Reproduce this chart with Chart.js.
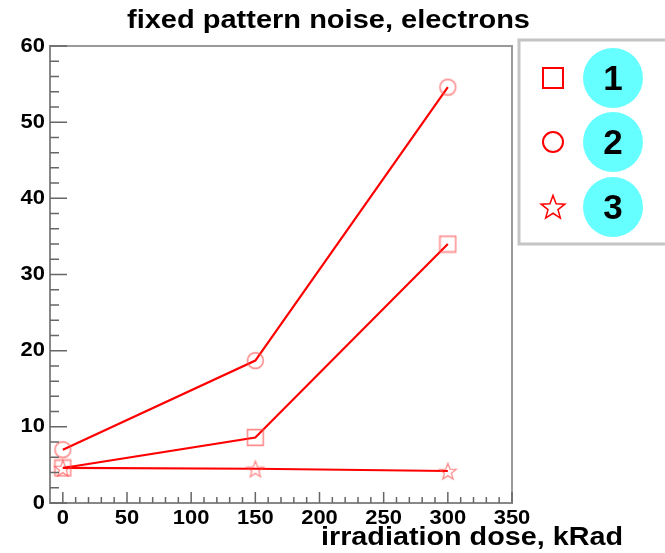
<!DOCTYPE html>
<html>
<head>
<meta charset="utf-8">
<script src="https://cdn.jsdelivr.net/npm/chart.js@4"></script>
<style>
  body { margin: 0; background: #fff; }
  #wrap { width: 665px; height: 553px; }
</style>
</head>
<body>
<div id="wrap"><canvas id="fpnChart"></canvas></div>
<script>
// dose points, kRad
const doses = [0, 150, 300];
// fixed pattern noise, electrons
const series1 = [4.6, 8.6, 34];
const series2 = [7.0, 18.7, 54.6];
const series3 = [4.6, 4.5, 4.2];
const seriesNames = ["1", "2", "3"];
const xTicks = [0, 50, 100, 150, 200, 250, 300, 350];
const yTicks = [0, 10, 20, 30, 40, 50, 60];

const red = "rgb(255,0,0)";
const fadedRed = "rgba(255,80,80,0.65)";
const fontFam = "'Liberation Sans', Arial, sans-serif";

// marker images, drawn once on small canvases
const markerCanvas = (kind, color, size, lw) => {
  const c = document.createElement("canvas");
  c.width = size;
  c.height = size;
  const g = c.getContext("2d");
  const m = size / 2;
  g.strokeStyle = color;
  g.lineWidth = lw;
  g.beginPath();
  if (kind === "square") {
    g.rect(lw, lw, size - 2 * lw, size - 2 * lw);
  } else if (kind === "circle") {
    g.arc(m, m, m - lw, 0, Math.PI * 2);
  } else {
    const ro = m - lw, ri = ro * 0.42;
    for (let i = 0; i < 10; i++) {
      const r = i % 2 ? ri : ro;
      const a = -Math.PI / 2 + (i * Math.PI) / 5;
      const px = m + r * Math.cos(a), py = m + 1 + r * Math.sin(a);
      i ? g.lineTo(px, py) : g.moveTo(px, py);
    }
    g.closePath();
  }
  g.stroke();
  return c;
};

const toPoints = (vals) => doses.map((d, i) => ({ x: d, y: vals[i] }));

// text squeezed/stretched horizontally so it covers [x0, x0 + w]
const wideText = (ctx, txt, x0, y, w) => {
  const tw = ctx.measureText(txt).width;
  ctx.save();
  ctx.translate(x0, y);
  ctx.scale(w / tw, 1);
  ctx.textAlign = "left";
  ctx.fillText(txt, 0, 0);
  ctx.restore();
};

// ROOT-like tick marks pointing into the plot, frame, texts and legend box
const decorations = {
  id: "decorations",
  afterDraw(chart) {
    const ctx = chart.ctx;
    const a = chart.chartArea;
    const xs = chart.scales.x, ys = chart.scales.y;
    ctx.save();
    // frame top / right
    ctx.strokeStyle = "#9a9a9a";
    ctx.lineWidth = 2;
    ctx.beginPath();
    ctx.moveTo(a.left, a.top);
    ctx.lineTo(a.right, a.top);
    ctx.lineTo(a.right, a.bottom);
    ctx.stroke();
    // ticks
    ctx.strokeStyle = "#666";
    ctx.lineWidth = 1.5;
    ctx.beginPath();
    for (let v = 0; v <= 350; v += 10) {
      const px = xs.getPixelForValue(v);
      const len = v % 50 === 0 ? 11 : 6;
      ctx.moveTo(px, a.bottom);
      ctx.lineTo(px, a.bottom - len);
    }
    for (let v = 0; v <= 60; v += 2) {
      const py = ys.getPixelForValue(v);
      const len = v % 10 === 0 ? 17 : 9;
      ctx.moveTo(a.left, py);
      ctx.lineTo(a.left + len, py);
    }
    ctx.stroke();
    // tick labels
    ctx.fillStyle = "#000";
    ctx.font = "bold 20px " + fontFam;
    ctx.textBaseline = "middle";
    xTicks.forEach((v) => {
      const s = String(v);
      const w = s.length * 12.2;
      wideText(ctx, s, xs.getPixelForValue(v) - w / 2, 518, w);
    });
    yTicks.forEach((v) => {
      const s = String(v);
      const w = s.length * 12.2;
      wideText(ctx, s, 45 - w, ys.getPixelForValue(v), w);
    });
    // titles
    ctx.textBaseline = "alphabetic";
    ctx.font = "bold 25px " + fontFam;
    wideText(ctx, "fixed pattern noise, electrons", 127, 28, 403);
    ctx.font = "bold 25px " + fontFam;
    wideText(ctx, "irradiation dose, kRad", 321, 545, 302);
    // legend box
    ctx.strokeStyle = "#c4c4c4";
    ctx.lineWidth = 3;
    ctx.strokeRect(519, 40, 160, 204);
    const rows = [78, 142, 207];
    const icons = [
      markerCanvas("square", red, 24, 2),
      markerCanvas("circle", red, 24, 2),
      markerCanvas("star", red, 28, 1.5),
    ];
    rows.forEach((cy, i) => {
      const ic = icons[i];
      ctx.drawImage(ic, 553 - ic.width / 2, cy - ic.height / 2);
      ctx.fillStyle = "#66ffff";
      ctx.beginPath();
      ctx.arc(613, cy, 30, 0, Math.PI * 2);
      ctx.fill();
      ctx.fillStyle = "#000";
      ctx.font = "bold 35px " + fontFam;
      ctx.textAlign = "center";
      ctx.textBaseline = "middle";
      ctx.fillText(seriesNames[i], 613, cy + 2);
    });
    ctx.restore();
  },
};

const makeChart = () => {
  const chart_ctx = document.getElementById("fpnChart");
  const lineSet = (name, vals, marker) => ({
    label: name,
    data: toPoints(vals),
    showLine: true,
    borderColor: red,
    borderWidth: 2.2,
    pointStyle: marker,
    pointRadius: 9,
    pointHoverRadius: 9,
  });
  const data = {
    datasets: [
      lineSet(seriesNames[0], series1, markerCanvas("square", fadedRed, 19, 1.6)),
      lineSet(seriesNames[1], series2, markerCanvas("circle", fadedRed, 19, 1.6)),
      lineSet(seriesNames[2], series3, markerCanvas("star", fadedRed, 20, 1.3)),
    ],
  };
  const config = {
    type: "scatter",
    data,
    options: {
      responsive: true,
      maintainAspectRatio: false,
      animation: false,
      layout: { padding: { left: 0, right: 153, top: 46, bottom: 0 } },
      plugins: { legend: { display: false }, tooltip: { enabled: false } },
      scales: {
        x: {
          type: "linear",
          min: -10,
          max: 350,
          afterBuildTicks: (s) => { s.ticks = xTicks.map((v) => ({ value: v })); },
          afterFit: (s) => { s.height = 50; },
          grid: { drawOnChartArea: false, drawTicks: false },
          border: { display: true, color: "#888", width: 2 },
          ticks: { display: false },
        },
        y: {
          type: "linear",
          min: 0,
          max: 60,
          afterBuildTicks: (s) => { s.ticks = yTicks.map((v) => ({ value: v })); },
          afterFit: (s) => { s.width = 50; },
          grid: { drawOnChartArea: false, drawTicks: false },
          border: { display: true, color: "#888", width: 2 },
          ticks: { display: false },
        },
      },
    },
    plugins: [decorations],
  };
  return new Chart(chart_ctx, config);
};

makeChart();
</script>
</body>
</html>
